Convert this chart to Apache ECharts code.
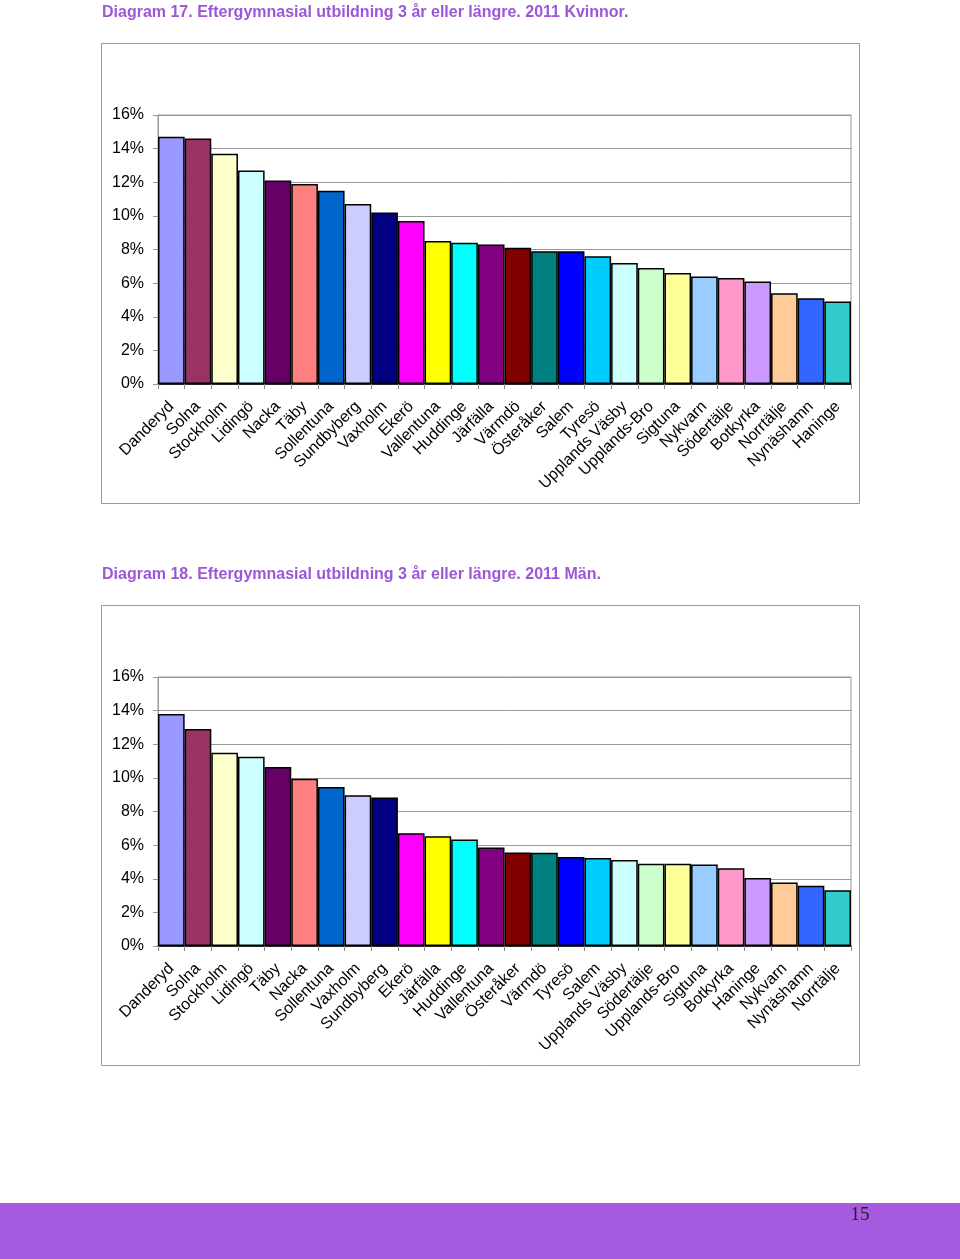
<!DOCTYPE html>
<html>
<head>
<meta charset="utf-8">
<script src="https://cdn.jsdelivr.net/npm/echarts@6/dist/echarts.min.js"></script>
<style>
html,body{margin:0;padding:0;background:#fff;}
#c{width:960px;height:1259px;}
</style>
</head>
<body>
<div id="c"></div>
<script>
// ---- data ----
const title17 = "Diagram 17. Eftergymnasial utbildning 3 år eller längre. 2011 Kvinnor.";
const categories17 = ["Danderyd","Solna","Stockholm","Lidingö","Nacka","Täby","Sollentuna","Sundbyberg","Vaxholm","Ekerö","Vallentuna","Huddinge","Järfälla","Värmdö","Österåker","Salem","Tyresö","Upplands Väsby","Upplands-Bro","Sigtuna","Nykvarn","Södertälje","Botkyrka","Norrtälje","Nynäshamn","Haninge"];
const values17 = [14.7,14.6,13.7,12.7,12.1,11.9,11.5,10.7,10.2,9.7,8.5,8.4,8.3,8.1,7.9,7.9,7.6,7.2,6.9,6.6,6.4,6.3,6.1,5.4,5.1,4.9];

const title18 = "Diagram 18. Eftergymnasial utbildning 3 år eller längre. 2011 Män.";
const categories18 = ["Danderyd","Solna","Stockholm","Lidingö","Täby","Nacka","Sollentuna","Vaxholm","Sundbyberg","Ekerö","Järfälla","Huddinge","Vallentuna","Österåker","Värmdö","Tyresö","Salem","Upplands Väsby","Södertälje","Upplands-Bro","Sigtuna","Botkyrka","Haninge","Nykvarn","Nynäshamn","Norrtälje"];
const values18 = [13.8,12.9,11.5,11.25,10.65,9.95,9.45,8.97,8.83,6.71,6.53,6.34,5.86,5.56,5.54,5.29,5.23,5.11,4.89,4.89,4.85,4.63,4.04,3.78,3.58,3.31];

const yMin = 0, yMax = 16, yStep = 2;
const pageNumber = "15";

// ---- styles ----
const palette = ["#9999FF","#993366","#FFFFCC","#CCFFFF","#660066","#FF8080","#0066CC","#CCCCFF","#000080","#FF00FF","#FFFF00","#00FFFF","#800080","#800000","#008080","#0000FF","#00CCFF","#CCFFFF","#CCFFCC","#FFFF99","#99CCFF","#FF99CC","#CC99FF","#FFCC99","#3366FF","#33CCCC"];
const FONT = "'Liberation Sans', Arial, Helvetica, sans-serif";
const TITLE_COLOR = "#9B57D6";

const chart = echarts.init(document.getElementById('c'), null, {renderer:'canvas'});

function grid(top){ return {left:158, width:693, top:top, height:269, show:true, borderColor:'#999', borderWidth:1, backgroundColor:'transparent', containLabel:false}; }
function xAxis(i, cats){
  return {type:'category', gridIndex:i, data:cats,
    axisLine:{show:true, lineStyle:{color:'#000', width:1.5}},
    axisTick:{show:true, alignWithLabel:false, length:5, lineStyle:{color:'#888'}},
    axisLabel:{rotate:45, interval:0, margin:20, fontFamily:FONT, fontSize:16, color:'#000'},
    splitLine:{show:false}};
}
function yAxis(i){
  return {type:'value', gridIndex:i, min:yMin, max:yMax, interval:yStep,
    axisLine:{show:true, lineStyle:{color:'#999'}},
    axisTick:{show:true, length:5, lineStyle:{color:'#999'}},
    axisLabel:{formatter:v=>v+'%', margin:14, fontFamily:FONT, fontSize:16, color:'#000'},
    splitLine:{show:true, lineStyle:{color:'#999', width:1}}};
}
function series(i, vals){
  return {type:'bar', xAxisIndex:i, yAxisIndex:i, data:vals, barCategoryGap:'0%',
    itemStyle:{color:p=>palette[p.dataIndex % palette.length], borderColor:'#000', borderWidth:1.5},
    emphasis:{disabled:true}, animation:false};
}

chart.setOption({
  animation:false,
  grid:[grid(115), grid(677)],
  xAxis:[xAxis(0, categories17), xAxis(1, categories18)],
  yAxis:[yAxis(0), yAxis(1)],
  series:[series(0, values17), series(1, values18)],
  graphic:[
    {type:'rect', z:-10, shape:{x:101.5, y:43.5, width:758, height:460}, style:{fill:'#fff', stroke:'#999', lineWidth:1}},
    {type:'rect', z:-10, shape:{x:101.5, y:605.5, width:758, height:460}, style:{fill:'#fff', stroke:'#999', lineWidth:1}},
    {type:'text', x:102, y:13, style:{text:title17, font:"bold 16px "+FONT, fill:TITLE_COLOR, textVerticalAlign:'middle'}},
    {type:'text', x:102, y:575, style:{text:title18, font:"bold 16px "+FONT, fill:TITLE_COLOR, textVerticalAlign:'middle'}},
    {type:'rect', shape:{x:0, y:1203, width:960, height:56}, style:{fill:'#A55ADF'}},
    {type:'text', x:860, y:1215, style:{text:pageNumber, font:"19px 'Liberation Serif', 'DejaVu Serif', serif", fill:'#222', textAlign:'center', textVerticalAlign:'middle'}}
  ]
});
</script>
</body>
</html>
